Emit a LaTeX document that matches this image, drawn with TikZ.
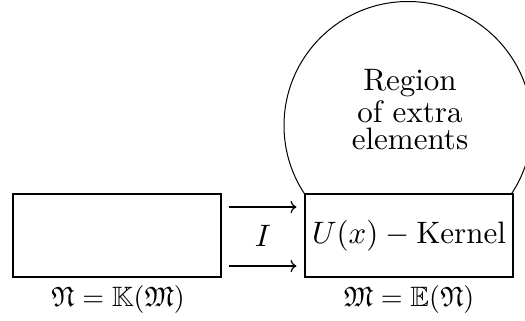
\documentclass[tikz,border=0pt]{standalone}
\usepackage{amsmath,amssymb}
\usetikzlibrary{arrows.meta}
\newcommand\enlargetxt[1]{\scalebox{1.55}{#1}}
\begin{document}
\begin{tikzpicture}[x=0.5pt,y=-0.5pt,
  every node/.style={font=\fontsize{10}{8.9}\selectfont},
  big/.style={scale=1.55},
  boxnode/.style={draw,line width=0.6pt,fill=white,minimum width=104pt,minimum height=41.5pt,inner sep=0pt},
  bubble/.style={draw,line width=0.5pt,circle,minimum size=124pt,inner sep=0pt},
  lbl/.style={scale=1.4},
  arr/.style={->,line width=0.6pt,shorten <=3.5pt,shorten >=4pt}]
\useasboundingbox (0,0) rectangle (525,321);
\clip (0,0) rectangle (525,321);
\node[bubble] (c) at (408,125.5) {};
\node[big,align=center] (t) at (410,110) {Region\\of extra\\elements};
\node[boxnode] (l) at (117,235.5) {};
\node[boxnode] (r) at (409,235.5) {\enlargetxt{$U(x) - \text{Kernel}$}};
\draw[arr] ([yshift=14.25pt]l.east) -- ([yshift=14.25pt]r.west);
\draw[arr] ([yshift=-15.25pt]l.east) -- ([yshift=-15.25pt]r.west);
\node[big] (i) at (263,236) {$I$};
\node[lbl] (ll) at (118,299) {$\mathfrak{N}=\mathbb{K}(\mathfrak{M})$};
\node[lbl] (rl) at (409,299) {$\mathfrak{M}=\mathbb{E}(\mathfrak{N})$};
\end{tikzpicture}
\end{document}
